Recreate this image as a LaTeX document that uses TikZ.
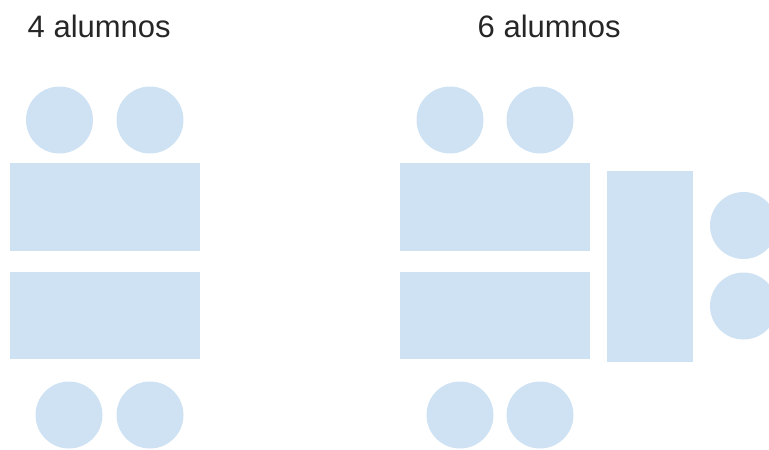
\documentclass[tikz,border=0pt]{standalone}
\usepackage{fontspec}
\setmainfont{Liberation Sans}
\definecolor{seat}{HTML}{CFE2F3}
\begin{document}
\begin{tikzpicture}[x=1pt,y=-1pt,
  chair/.style={circle,fill=seat,draw=none,minimum size=67pt,inner sep=0pt},
  desk/.style={rectangle,fill=seat,draw=none,inner sep=0pt},
  title/.style={anchor=base west,inner sep=0pt,font=\fontsize{31}{36}\selectfont,text=black!85}]
\useasboundingbox (0,0) rectangle (769,450);
% titles
\node[title] (t4) at (27.5,37) {4 alumnos};
\node[title] (t6) at (477.5,37) {6 alumnos};
% group of 4
\node[chair] (a1) at (59.5,120) {};
\node[chair] (a2) at (150,120) {};
\node[desk,minimum width=190pt,minimum height=88pt] (d1) at (105,207) {};
\node[desk,minimum width=190pt,minimum height=87pt] (d2) at (105,315.5) {};
\node[chair] (a3) at (69,415) {};
\node[chair] (a4) at (150,415) {};
% group of 6
\node[chair] (b1) at (450,120) {};
\node[chair] (b2) at (540,120) {};
\node[desk,minimum width=190pt,minimum height=88pt] (e1) at (495,207) {};
\node[desk,minimum width=190pt,minimum height=87pt] (e2) at (495,315.5) {};
\node[desk,minimum width=86pt,minimum height=191pt] (e3) at (650,266.5) {};
\node[chair] (b3) at (460,415) {};
\node[chair] (b4) at (540,415) {};
\node[chair] (b5) at (743.5,225.5) {};
\node[chair] (b6) at (743.5,306) {};
\end{tikzpicture}
\end{document}
